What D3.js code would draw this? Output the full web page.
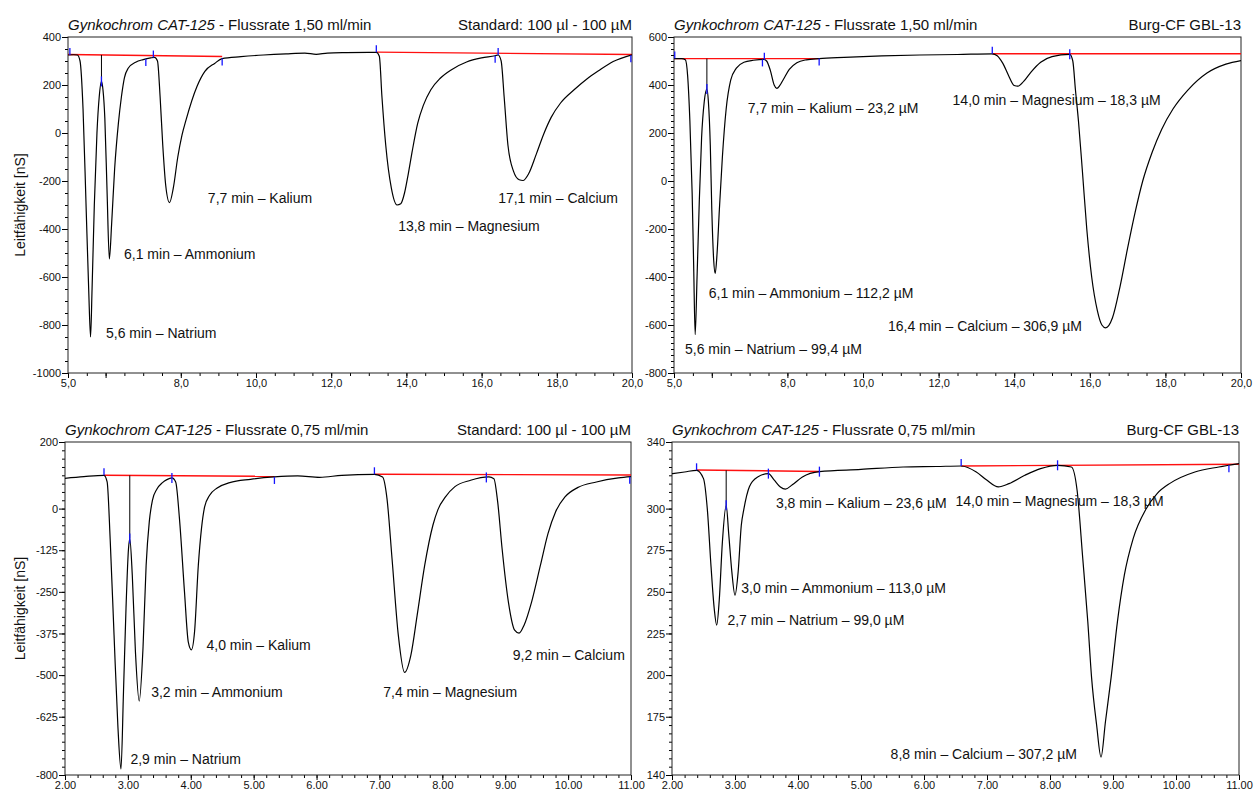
<!DOCTYPE html>
<html>
<head>
<meta charset="utf-8">
<script src="https://cdn.jsdelivr.net/npm/d3@7"></script>
<style>
  body { margin: 0; background: #fff; }
  svg { display: block; font-family: "Liberation Sans", Arial, sans-serif; }
</style>
</head>
<body>
<svg id="chart" width="1255" height="794"></svg>
<script>
// ---- data: [time (min), conductance (nS)]

// top left: standard, 1,50 ml/min
const tlTrace = [[5.0,325],[5.15,326],[5.25,325],[5.32,300],[5.4,100],[5.48,-300],[5.55,-650],[5.6,-850],[5.64,-650],[5.7,-300],[5.77,0],[5.83,150],[5.89,215],[5.93,180],[5.98,60],[6.04,-250],[6.1,-525],[6.16,-380],[6.24,-150],[6.34,40],[6.42,150],[6.5,230],[6.6,270],[6.8,295],[7.0,306],[7.2,313],[7.3,315],[7.38,300],[7.45,150],[7.52,-50],[7.6,-220],[7.7,-290],[7.8,-230],[7.92,-100],[8.03,-10],[8.14,55],[8.43,194],[8.64,257],[8.9,290],[9.1,310],[9.6,318],[10.2,325],[10.8,330],[11.3,333],[11.6,328],[11.9,333],[12.4,335],[13.0,336],[13.2,336],[13.28,320],[13.35,150],[13.45,-50],[13.6,-230],[13.75,-300],[13.85,-295],[13.95,-250],[14.05,-170],[14.15,-80],[14.3,40],[14.45,115],[14.65,180],[14.9,228],[15.2,264],[15.6,296],[16.0,313],[16.36,322],[16.44,325],[16.52,300],[16.6,150],[16.7,-50],[16.85,-160],[17.0,-195],[17.1,-198],[17.25,-170],[17.45,-90],[17.65,-5],[17.85,65],[18.1,125],[18.46,180],[18.8,225],[19.1,258],[19.5,298],[20.0,326]];
const tlBaselines = [[[5.0,327],[9.1,319]], [[13.2,337],[20.0,327]]];
const tlMarkers = [[5.05,"up"],[5.89,"both"],[7.07,"down"],[7.27,"up"],[9.1,"down"],[13.2,"up"],[16.36,"down"],[16.44,"up"],[19.97,"down"]];
const tlDrops = [5.89];
const tlLabels = [[6.01,-832,"5,6 min – Natrium"],[6.49,-503,"6,1 min – Ammonium"],[8.72,-270,"7,7 min – Kalium"],[13.78,-386,"13,8 min – Magnesium"],[16.44,-270,"17,1 min – Calcium"]];

// top right: Burg-CF sample, 1,50 ml/min
const trTrace = [[5.0,510],[5.2,510],[5.3,505],[5.36,440],[5.42,250],[5.48,-50],[5.52,-350],[5.56,-640],[5.61,-400],[5.67,-80],[5.73,180],[5.8,330],[5.87,383],[5.91,330],[5.96,150],[6.0,-120],[6.05,-330],[6.09,-385],[6.14,-300],[6.2,-120],[6.28,100],[6.38,300],[6.5,420],[6.65,470],[6.85,495],[7.1,503],[7.37,507],[7.45,500],[7.55,460],[7.65,400],[7.72,386],[7.8,398],[7.9,425],[8.05,465],[8.25,493],[8.5,505],[8.84,510],[9.5,515],[10.5,521],[11.5,525],[12.5,527],[13.42,530],[13.55,522],[13.7,490],[13.85,440],[14.0,398],[14.1,395],[14.25,415],[14.45,455],[14.7,495],[15.0,518],[15.47,528],[15.55,500],[15.62,380],[15.7,250],[15.8,50],[15.92,-200],[16.05,-400],[16.2,-540],[16.32,-600],[16.42,-612],[16.6,-570],[16.8,-440],[17.0,-280],[17.2,-130],[17.4,0],[17.65,120],[17.9,215],[18.2,300],[18.6,380],[19.1,450],[19.6,487],[20.0,502]];
const trBaselines = [[[5.0,510],[8.84,510]], [[13.42,530],[20.0,530]]];
const trMarkers = [[5.02,"up"],[5.87,"both"],[7.34,"down"],[7.39,"up"],[8.84,"down"],[13.42,"up"],[15.47,"both"]];
const trDrops = [5.87];
const trLabels = [[6.95,305,"7,7 min – Kalium – 23,2 µM"],[12.37,339,"14,0 min – Magnesium – 18,3 µM"],[5.92,-465,"6,1 min – Ammonium – 112,2 µM"],[10.66,-606,"16,4 min – Calcium – 306,9 µM"],[5.29,-702,"5,6 min – Natrium – 99,4 µM"]];

// bottom left: standard, 0,75 ml/min
const blTrace = [[2.0,91],[2.3,96],[2.62,100],[2.67,80],[2.72,-100],[2.78,-380],[2.84,-650],[2.89,-782],[2.93,-550],[2.97,-300],[3.01,-120],[3.03,-90],[3.07,-200],[3.12,-430],[3.18,-578],[3.24,-420],[3.29,-170],[3.34,-40],[3.39,25],[3.46,58],[3.55,78],[3.62,87],[3.7,92],[3.76,80],[3.82,-30],[3.9,-250],[3.96,-400],[4.01,-424],[4.06,-370],[4.12,-170],[4.17,-60],[4.22,5],[4.3,40],[4.42,62],[4.62,78],[4.95,88],[5.33,95],[5.7,98],[6.05,94],[6.4,100],[6.92,103],[7.05,95],[7.12,30],[7.2,-150],[7.3,-380],[7.4,-492],[7.5,-440],[7.6,-320],[7.72,-170],[7.85,-50],[7.93,-3],[8.05,35],[8.2,66],[8.45,85],[8.74,95],[8.82,90],[8.88,20],[8.95,-120],[9.05,-280],[9.15,-365],[9.22,-374],[9.3,-350],[9.42,-280],[9.56,-170],[9.68,-75],[9.8,-10],[9.95,35],[10.15,63],[10.45,80],[10.8,92],[11.0,96]];
const blBaselines = [[[2.62,100],[5.33,97]], [[6.92,103],[11.0,101]]];
const blMarkers = [[2.62,"up"],[3.03,"both"],[3.7,"both"],[5.33,"down"],[6.92,"up"],[8.7,"both"],[10.98,"down"]];
const blDrops = [3.03];
const blLabels = [[4.25,-409,"4,0 min – Kalium"],[3.37,-552,"3,2 min – Ammonium"],[7.06,-552,"7,4 min – Magnesium"],[9.12,-439,"9,2 min – Calcium"],[3.04,-753,"2,9 min – Natrium"]];

// bottom right: Burg-CF sample, 0,75 ml/min
const brTrace = [[2.0,321],[2.2,322],[2.39,323],[2.5,318],[2.56,300],[2.62,265],[2.67,240],[2.71,230],[2.75,245],[2.8,280],[2.86,302],[2.9,285],[2.95,262],[3.0,248],[3.05,262],[3.1,290],[3.14,299.5],[3.23,313.3],[3.36,319],[3.53,321],[3.62,317.3],[3.72,313],[3.8,311.7],[3.91,314.3],[4.07,319],[4.34,322.2],[5.0,323.5],[5.67,325],[6.2,325.3],[6.59,325.6],[6.83,322],[6.99,317.3],[7.18,313],[7.35,315],[7.6,320],[7.85,324],[8.12,326],[8.34,325],[8.43,311],[8.52,270],[8.6,232],[8.66,198.5],[8.74,170],[8.81,150.7],[8.88,172],[8.97,198.5],[9.07,232],[9.18,260],[9.32,282],[9.52,299.5],[9.7,309],[9.91,315.3],[10.3,322],[10.68,325],[11.0,327]];
const brBaselines = [[[2.39,323.2],[4.34,322.3]], [[6.59,325.6],[11.0,326.6]]];
const brMarkers = [[2.39,"up"],[2.86,"both"],[3.53,"both"],[4.34,"both"],[6.59,"up"],[8.12,"both"],[10.84,"down"]];
const brDrops = [2.86];
const brLabels = [[3.65,303.6,"3,8 min – Kalium – 23,6 µM"],[6.5,304.4,"14,0 min – Magnesium – 18,3 µM"],[3.1,252,"3,0 min – Ammonium – 113,0 µM"],[2.88,233,"2,7 min – Natrium – 99,0 µM"],[5.47,152.8,"8,8 min – Calcium – 307,2 µM"]];

// ---- axes ticks
const fastMajor = [5, 6, 8, 10, 12, 14, 16, 18, 20];
const fastLabelled = [5, 8, 10, 12, 14, 16, 18, 20];
const slowMajor = [2, 3, 4, 5, 6, 7, 8, 9, 10, 11];
const tlYTicks = [400, 200, 0, -200, -400, -600, -800, -1000];
const trYTicks = [600, 400, 200, 0, -200, -400, -600, -800];
const blYTicks = [200, 0, -125, -250, -375, -500, -625, -800];
const brYTicks = [340, 300, 275, 250, 225, 200, 175, 140];

const titleFast = "Flussrate 1,50 ml/min";
const titleSlow = "Flussrate 0,75 ml/min";
const titleStd = "Standard: 100 µl - 100 µM";
const titleSample = "Burg-CF GBL-13";

const svg = d3.select("#chart");

// value on a polyline at time t (used to sit markers on the trace)
function valueAt(points, t) {
    const i = d3.bisector(d => d[0]).left(points, t);
    if (i <= 0) return points[0][1];
    if (i >= points.length) return points[points.length - 1][1];
    const a = points[i - 1], b = points[i];
    return a[1] + (b[1] - a[1]) * (t - a[0]) / (b[0] - a[0]);
}

function drawPanel(p) {
    const g = svg.append("g");
    const x = d3.scaleLinear().domain(p.xDomain).range([p.left, p.right]);
    const y = d3.scaleLinear().domain(p.yDomain).range([p.bottom, p.top]);
    const clipId = "clip-" + p.id;

    g.append("clipPath").attr("id", clipId)
        .append("rect")
        .attr("x", p.left).attr("y", p.top - 2)
        .attr("width", p.right - p.left).attr("height", p.bottom - p.top + 2);

    // x axis, major + minor
    const xMinor = d3.range(p.xDomain[0], p.xDomain[1] + 1e-9, p.xMinorStep);
    g.append("g").attr("transform", `translate(0,${p.bottom})`)
        .call(d3.axisBottom(x).tickValues(xMinor).tickSize(3).tickFormat("").tickSizeOuter(0))
        .call(a => a.select(".domain").remove());
    g.append("g").attr("transform", `translate(0,${p.bottom})`)
        .call(d3.axisBottom(x).tickValues(p.xMajor).tickSize(5).tickPadding(1).tickSizeOuter(0)
            .tickFormat(d => p.xLabelled.includes(d) ? p.xFormat(d) : ""))
        .call(a => a.select(".domain").remove())
        .call(a => a.selectAll("text").attr("font-size", 11).attr("fill", "#111")
            .attr("font-family", "Liberation Sans, Arial, sans-serif"));

    // y axis, major + minor
    const yMinor = d3.range(p.yDomain[0], p.yDomain[1] + 1e-9, p.yMinorStep);
    g.append("g").attr("transform", `translate(${p.left},0)`)
        .call(d3.axisLeft(y).tickValues(yMinor).tickSize(3).tickFormat("").tickSizeOuter(0))
        .call(a => a.select(".domain").remove());
    g.append("g").attr("transform", `translate(${p.left},0)`)
        .call(d3.axisLeft(y).tickValues(p.yTicks).tickSize(6).tickPadding(1).tickSizeOuter(0)
            .tickFormat(d => String(d)))
        .call(a => a.select(".domain").remove())
        .call(a => a.selectAll("text").attr("font-size", 11).attr("fill", "#111")
            .attr("font-family", "Liberation Sans, Arial, sans-serif"));

    // frame
    g.append("rect")
        .attr("x", p.left).attr("y", p.top)
        .attr("width", p.right - p.left).attr("height", p.bottom - p.top)
        .attr("fill", "none").attr("stroke", "#222").attr("stroke-width", 1);

    const plot = g.append("g").attr("clip-path", `url(#${clipId})`);

    // integration baselines
    const line = d3.line().x(d => x(d[0])).y(d => y(d[1]));
    p.baselines.forEach(seg => {
        plot.append("path").attr("d", line(seg))
            .attr("fill", "none").attr("stroke", "#ff1010").attr("stroke-width", 1.4);
    });

    // drop lines between the first two peaks
    p.drops.forEach(t => {
        const segs = p.baselines.filter(s => t >= s[0][0] && t <= s[s.length - 1][0]);
        const top = segs.length ? valueAt(segs[0], t) : valueAt(p.trace, t);
        plot.append("line")
            .attr("x1", x(t)).attr("x2", x(t))
            .attr("y1", y(top)).attr("y2", y(valueAt(p.trace, t)))
            .attr("stroke", "#000").attr("stroke-width", 1);
    });

    // trace
    const trace = d3.line().x(d => x(d[0])).y(d => y(d[1])).curve(d3.curveMonotoneX);
    plot.append("path").attr("d", trace(p.trace))
        .attr("fill", "none").attr("stroke", "#000").attr("stroke-width", 1.2);

    // peak start / end markers
    p.markers.forEach(([t, dir]) => {
        const cy = y(valueAt(p.trace, t));
        const y1 = dir === "down" ? cy : cy - (dir === "both" ? 5 : 7);
        const y2 = dir === "up" ? cy : cy + (dir === "both" ? 5 : 7);
        plot.append("line")
            .attr("x1", x(t)).attr("x2", x(t)).attr("y1", y1).attr("y2", y2)
            .attr("stroke", "#1414ff").attr("stroke-width", 1.3);
    });

    // peak annotations
    p.labels.forEach(([t, v, txt]) => {
        g.append("text")
            .attr("x", x(t)).attr("y", y(v)).attr("dy", "0.35em")
            .attr("font-size", 14).attr("fill", "#111")
            .text(txt);
    });

    // title line
    const title = g.append("text").attr("x", p.left).attr("y", p.top - 7)
        .attr("font-size", 15).attr("fill", "#111");
    title.append("tspan").attr("font-style", "italic").text("Gynkochrom CAT-125");
    title.append("tspan").text(" - " + p.flow);
    g.append("text").attr("x", p.right).attr("y", p.top - 7)
        .attr("text-anchor", "end").attr("font-size", 15).attr("fill", "#111")
        .text(p.sample);

    if (p.yTitle) {
        g.append("text")
            .attr("transform", `translate(20,${(p.top + p.bottom) / 2}) rotate(-90)`)
            .attr("text-anchor", "middle").attr("dy", "0.35em")
            .attr("font-size", 14).attr("fill", "#111")
            .text("Leitfähigkeit [nS]");
    }
}

const fmtComma = d => d3.format(".1f")(d).replace(".", ",");
const fmtDot = d => d3.format(".2f")(d);

drawPanel({ id: "tl", left: 68, right: 632, top: 37, bottom: 373,
    xDomain: [5, 20], yDomain: [-1000, 400], xMajor: fastMajor, xLabelled: fastLabelled,
    xMinorStep: 0.5, xFormat: fmtComma, yTicks: tlYTicks, yMinorStep: 50,
    trace: tlTrace, baselines: tlBaselines, markers: tlMarkers, drops: tlDrops, labels: tlLabels,
    flow: titleFast, sample: titleStd, yTitle: true });

drawPanel({ id: "tr", left: 674, right: 1241, top: 37, bottom: 373,
    xDomain: [5, 20], yDomain: [-800, 600], xMajor: fastMajor, xLabelled: fastLabelled,
    xMinorStep: 0.5, xFormat: fmtComma, yTicks: trYTicks, yMinorStep: 25,
    trace: trTrace, baselines: trBaselines, markers: trMarkers, drops: trDrops, labels: trLabels,
    flow: titleFast, sample: titleSample, yTitle: false });

drawPanel({ id: "bl", left: 65, right: 631, top: 442, bottom: 775,
    xDomain: [2, 11], yDomain: [-800, 200], xMajor: slowMajor, xLabelled: slowMajor,
    xMinorStep: 0.2, xFormat: fmtDot, yTicks: blYTicks, yMinorStep: 25,
    trace: blTrace, baselines: blBaselines, markers: blMarkers, drops: blDrops, labels: blLabels,
    flow: titleSlow, sample: titleStd, yTitle: true });

drawPanel({ id: "br", left: 672, right: 1239, top: 442, bottom: 775,
    xDomain: [2, 11], yDomain: [140, 340], xMajor: slowMajor, xLabelled: slowMajor,
    xMinorStep: 0.2, xFormat: fmtDot, yTicks: brYTicks, yMinorStep: 5,
    trace: brTrace, baselines: brBaselines, markers: brMarkers, drops: brDrops, labels: brLabels,
    flow: titleSlow, sample: titleSample, yTitle: false });
</script>
</body>
</html>
